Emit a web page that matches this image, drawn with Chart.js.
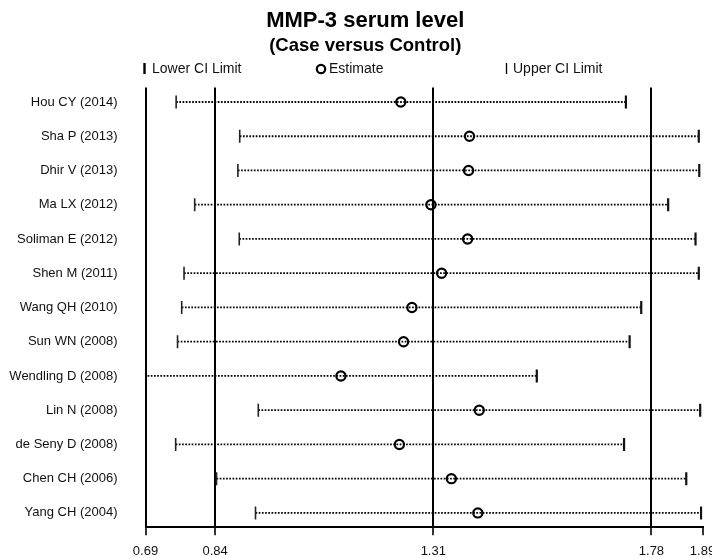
<!DOCTYPE html>
<html>
<head>
<meta charset="utf-8">
<script src="https://cdn.jsdelivr.net/npm/chart.js@4.4.1/dist/chart.umd.min.js"></script>
<style>
  body { margin: 0; background: #fff; }
  #wrap { width: 712px; height: 558px; }
</style>
</head>
<body>
<div id="wrap"><canvas id="myChart" width="712" height="558"></canvas></div>
<script>
// study labels, top to bottom
const studies = ['Hou CY (2014)', 'Sha P (2013)', 'Dhir V (2013)', 'Ma LX (2012)', 'Soliman E (2012)',
  'Shen M (2011)', 'Wang QH (2010)', 'Sun WN (2008)', 'Wendling D (2008)', 'Lin N (2008)',
  'de Seny D (2008)', 'Chen CH (2006)', 'Yang CH (2004)']
const estimates = [1.240, 1.388, 1.386, 1.305, 1.384, 1.328, 1.264, 1.246, 1.111, 1.409, 1.237, 1.349, 1.406]
const lowerCI = [0.756, 0.893, 0.889, 0.796, 0.892, 0.773, 0.768, 0.759, 0.66, 0.933, 0.755, 0.843, 0.927]
const upperCI = [1.725, 1.882, 1.883, 1.816, 1.875, 1.882, 1.758, 1.733, 1.533, 1.885, 1.721, 1.855, 1.887]
const tickValues = [0.69, 0.84, 1.31, 1.78, 1.89]
const tickLabels = ['0.69', '0.84', '1.31', '1.78', '1.89']
const refLines = [0.69, 0.84, 1.31, 1.78]

const font = 'Liberation Sans, Arial, sans-serif'

// dotted CI line, one per study
let ciLines = studies.map((s, i) => ({
    type: 'line',
    label: s,
    data: [{ x: lowerCI[i], y: i }, { x: upperCI[i], y: i }],
    borderColor: '#000',
    borderWidth: 1.8,
    borderDash: [1.7, 1.5],
    pointRadius: 0,
    order: 3
}))

// legend drawn by hand: the original spaces the items unevenly
const ciLegend = {
    id: 'ciLegend',
    afterLayout(chart) {
        // titles sit a bit right of the canvas centre in the original
        chart.boxes.forEach(b => {
            if (b.options && typeof b.options.text === 'string' && b.position === 'top') b.left = 28
        })
    },
    afterDraw(chart) {
        const c = chart.ctx
        const y = 69
        c.save()
        c.strokeStyle = '#000'
        c.lineWidth = 2.4
        c.beginPath(); c.moveTo(144.5, y - 6); c.lineTo(144.5, y + 5); c.stroke()
        c.lineWidth = 1.3
        c.beginPath(); c.moveTo(506.5, y - 6); c.lineTo(506.5, y + 5); c.stroke()
        c.lineWidth = 2.2
        c.beginPath(); c.arc(321, y, 4.2, 0, Math.PI * 2); c.stroke()
        c.fillStyle = '#111'
        c.font = '14px ' + font
        c.textBaseline = 'middle'
        c.fillText('Lower CI Limit', 152, y)
        c.fillText('Estimate', 329, y)
        c.fillText('Upper CI Limit', 513, y)
        c.restore()
    }
}

const ctx = document.getElementById('myChart')
let chart = new Chart(ctx, {
    type: 'scatter',
    data: {
        datasets: [
            {
                label: 'Estimate',
                data: estimates.map((v, i) => ({ x: v, y: i })),
                pointStyle: 'circle',
                pointRadius: 4.6,
                pointBorderWidth: 2.2,
                pointBorderColor: '#000',
                pointBackgroundColor: 'rgba(0,0,0,0)',
                order: 0
            },
            {
                label: 'Lower CI Limit',
                data: lowerCI.map((v, i) => ({ x: v, y: i })),
                pointStyle: 'line',
                pointRotation: 90,
                pointRadius: 6.5,
                pointBorderWidth: 1.6,
                pointBorderColor: '#222',
                order: 1
            },
            {
                label: 'Upper CI Limit',
                data: upperCI.map((v, i) => ({ x: v, y: i })),
                pointStyle: 'line',
                pointRotation: 90,
                pointRadius: 6.5,
                pointBorderWidth: 2.2,
                pointBorderColor: '#111',
                order: 1
            },
            ...ciLines
        ]
    },
    options: {
        responsive: false,
        animation: false,
        layout: { padding: { left: 0, right: 9.5, top: 0, bottom: 0 } },
        plugins: {
            legend: { display: false },
            tooltip: { enabled: false },
            title: {
                display: true,
                text: 'MMP-3 serum level',
                color: '#000',
                font: { family: font, size: 22, weight: 'bold' },
                padding: { top: 8, bottom: 0 }
            },
            subtitle: {
                display: true,
                text: '(Case versus Control)',
                color: '#000',
                font: { family: font, size: 18.5, weight: 'bold' },
                padding: { top: 0, bottom: 31 }
            }
        },
        scales: {
            x: {
                type: 'linear',
                min: 0.69,
                max: 1.89,
                afterBuildTicks: s => { s.ticks = tickValues.map(v => ({ value: v })) },
                afterFit: s => { s.paddingLeft = 0; s.paddingRight = 0; s.height = 30.7 },
                ticks: {
                    color: '#111',
                    font: { family: font, size: 13 },
                    padding: 8,
                    maxRotation: 0,
                    autoSkip: false,
                    callback: (v, i) => tickLabels[i]
                },
                grid: {
                    color: c => refLines.includes(c.tick && c.tick.value) ? '#000' : 'rgba(0,0,0,0)',
                    lineWidth: 2,
                    tickColor: '#000',
                    tickLength: 8,
                    tickWidth: 1.6
                },
                border: { display: true, color: '#000', width: 2 }
            },
            y: {
                type: 'linear',
                reverse: true,
                min: -0.42,
                max: 12.42,
                afterBuildTicks: s => { s.ticks = studies.map((n, i) => ({ value: i })) },
                afterFit: s => { s.width = 145.5; s.paddingTop = 0; s.paddingBottom = 0 },
                ticks: {
                    color: '#111',
                    font: { family: font, size: 13 },
                    padding: 20,
                    autoSkip: false,
                    callback: v => studies[v]
                },
                grid: { display: false },
                border: { display: false }
            }
        }
    },
    plugins: [ciLegend]
})
</script>
</body>
</html>
